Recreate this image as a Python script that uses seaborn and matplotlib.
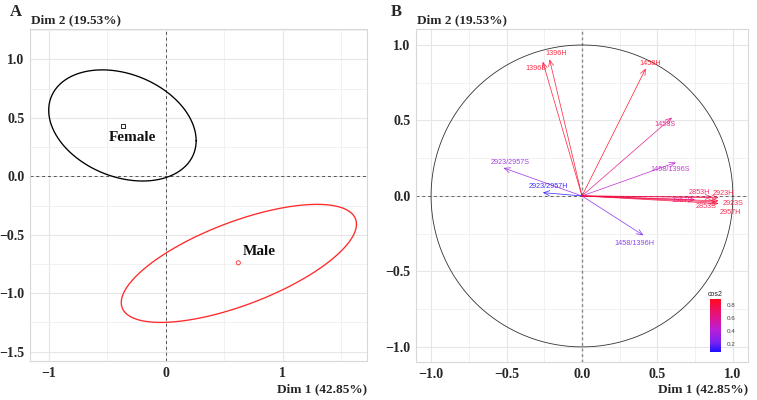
import numpy as np
import pandas as pd
import matplotlib
matplotlib.use("Agg")
import matplotlib.pyplot as plt
import seaborn as sns
from matplotlib.colors import LinearSegmentedColormap, Normalize
from matplotlib.ticker import MultipleLocator
from matplotlib.cm import ScalarMappable

# ---- panel A: group means and confidence ellipses ----
groups = ["Female", "Male"]
group_x = [-0.365, 0.62]
group_y = [0.43, -0.74]
ell_cx = [-0.37, 0.625]
ell_cy = [0.435, -0.745]
ell_sxx = [0.397, 1.01]
ell_syy = [0.226, 0.255]
ell_sxy = [-0.082, 0.337]

# ---- panel B: variable loadings ----
variables = ["1396H", "1396S", "1458H", "1458S", "1458/1396S", "2923/2957S",
             "2923/2957H", "1458/1396H", "1967S", "2853H", "2853S", "2923H",
             "2923S", "2957H"]
dim1 = [-0.215, -0.26, 0.423, 0.597, 0.623, -0.52, -0.26, 0.407,
        0.75, 0.862, 0.885, 0.906, 0.906, 0.906]
dim2 = [0.905, 0.89, 0.845, 0.52, 0.222, 0.186, 0.022, -0.261,
        -0.025, -0.007, -0.04, -0.011, -0.033, -0.05]

dim1_title = "Dim 1 (42.85%)"
dim2_title = "Dim 2 (19.53%)"

sns.set_theme(style="whitegrid")
plt.rcParams["font.family"] = ["Liberation Serif", "DejaVu Serif"]

fig = plt.figure(figsize=(7.57, 4.0), dpi=100)
axA = fig.add_axes([0.0396, 0.0975, 0.4452, 0.83])
axB = fig.add_axes([0.5495, 0.095, 0.4386, 0.8325])


def style_axes(ax):
    ax.grid(True, which="major", color="#E6E6E6", lw=0.8)
    ax.grid(True, which="minor", color="#EFEFEF", lw=0.6)
    ax.set_axisbelow(True)
    for s in ax.spines.values():
        s.set_color("#D8D8D8")
        s.set_linewidth(0.8)
    ax.tick_params(which="both", length=0, pad=4, labelsize=10)
    for lab in ax.get_xticklabels() + ax.get_yticklabels():
        lab.set_fontweight("bold")
    ax.set_xlabel("")
    ax.set_ylabel("")


# ---- panel A ----
colors_A = ["black", "#FF2A2A"]
t = np.linspace(0, 2 * np.pi, 300)
for i, g in enumerate(groups):
    S = np.array([[ell_sxx[i], ell_sxy[i]], [ell_sxy[i], ell_syy[i]]])
    L = np.linalg.cholesky(S)
    pts = L @ np.vstack([np.cos(t), np.sin(t)])
    sns.lineplot(x=pts[0] + ell_cx[i], y=pts[1] + ell_cy[i], sort=False,
                 estimator=None, color=colors_A[i], lw=0.95, ax=axA)

means = pd.DataFrame({"x": group_x, "y": group_y, "group": groups})
sns.scatterplot(data=means, x="x", y="y", hue="group", style="group",
                markers={"Female": "s", "Male": "o"},
                palette={"Female": "black", "Male": "#FF2A2A"},
                s=9, linewidth=0.6, legend=False, ax=axA)
for coll in axA.collections:
    coll.set_facecolor("none")
    coll.set_edgecolor(colors_A)

axA.axhline(0, color="#555555", ls=(0, (3, 3)), lw=0.7, zorder=1)
axA.axvline(0, color="#555555", ls=(0, (3, 3)), lw=0.7, zorder=1)
axA.text(-0.28, 0.33, "Female", ha="center", va="center", fontsize=11,
         fontweight="bold", color="#111111")
axA.text(0.80, -0.64, "Male", ha="center", va="center", fontsize=11,
         fontweight="bold", color="#111111")

axA.set_xlim(-1.16, 1.72)
axA.set_ylim(-1.58, 1.26)
axA.set_xticks([-1, 0, 1])
axA.set_yticks([-1.5, -1.0, -0.5, 0.0, 0.5, 1.0])
axA.set_yticklabels(["−1.5", "−1.0", "−0.5", "0.0", "0.5", "1.0"])
axA.set_xticklabels(["−1", "0", "1"])
axA.xaxis.set_minor_locator(MultipleLocator(0.5))
axA.yaxis.set_minor_locator(MultipleLocator(0.25))
style_axes(axA)

# ---- panel B ----
cos2 = np.array(dim1) ** 2 + np.array(dim2) ** 2
cmap = LinearSegmentedColormap.from_list(
    "cos2", [(0.0, "#1E10FF"), (0.18, "#7A22F2"), (0.42, "#B81ED8"),
             (0.66, "#E0148A"), (1.0, "#FF0A1E")])
norm = Normalize(vmin=cos2.min(), vmax=cos2.max())

sns.lineplot(x=np.cos(t), y=np.sin(t), sort=False, estimator=None,
             color="#333333", lw=0.6, ax=axB)
axB.axhline(0, color="#666666", ls=(0, (3, 3)), lw=0.7, zorder=1)
axB.axvline(0, color="#888888", ls=(0, (2, 2)), lw=1.0, zorder=1)

# label placements (data units)
label_pos = {
    "1396H": (-0.17, 0.945), "1396S": (-0.305, 0.845), "1458H": (0.455, 0.879),
    "1458S": (0.553, 0.474), "1458/1396S": (0.586, 0.177),
    "2923/2957S": (-0.476, 0.222), "2923/2957H": (-0.223, 0.06),
    "1458/1396H": (0.346, -0.312), "1967S": (0.66, -0.033),
    "2853H": (0.78, 0.022), "2853S": (0.82, -0.068), "2923H": (0.94, 0.016),
    "2923S": (1.0, -0.05), "2957H": (0.98, -0.11),
}
for name, x, y, c in zip(variables, dim1, dim2, cos2):
    col = cmap(norm(c))
    axB.annotate("", xy=(x, y), xytext=(0, 0),
                 arrowprops=dict(arrowstyle="->,head_length=0.35,head_width=0.15",
                                 color=col, alpha=0.85, lw=0.55,
                                 shrinkA=0, shrinkB=0))
    lx, ly = label_pos[name]
    axB.text(lx, ly, name, ha="center", va="center", fontsize=5.2, color=col,
             alpha=0.85, family=["Liberation Sans", "DejaVu Sans"])

axB.set_xlim(-1.10, 1.10)
axB.set_ylim(-1.10, 1.106)
axB.set_xticks([-1.0, -0.5, 0.0, 0.5, 1.0])
axB.set_yticks([-1.0, -0.5, 0.0, 0.5, 1.0])
axB.set_xticklabels(["−1.0", "−0.5", "0.0", "0.5", "1.0"])
axB.set_yticklabels(["−1.0", "−0.5", "0.0", "0.5", "1.0"])
axB.xaxis.set_minor_locator(MultipleLocator(0.25))
axB.yaxis.set_minor_locator(MultipleLocator(0.25))
style_axes(axB)

# colour bar
cax = fig.add_axes([0.938, 0.12, 0.0145, 0.1325])
cb = fig.colorbar(ScalarMappable(norm=norm, cmap=cmap), cax=cax)
cb.outline.set_visible(False)
cb.set_ticks([0.2, 0.4, 0.6, 0.8])
cb.ax.tick_params(length=2, width=0.5, color="white", labelsize=4.5,
                  labelcolor="#444444", pad=2)
for lab in cb.ax.get_yticklabels():
    lab.set_family(["Liberation Sans", "DejaVu Sans"])
cax.set_title("cos2", fontsize=5, color="#222222", pad=2,
              family=["Liberation Sans", "DejaVu Sans"])

# axis titles and panel letters
for ax in (axA, axB):
    pos = ax.get_position()
    fig.text(pos.x0 + 0.001, 0.95, dim2_title, ha="left", va="center",
             fontsize=9.5, fontweight="bold")
    fig.text(pos.x1, 0.028, dim1_title, ha="right", va="center",
             fontsize=9.5, fontweight="bold")
fig.text(0.013, 0.97, "A", ha="left", va="center", fontsize=12, fontweight="bold")
fig.text(0.516, 0.97, "B", ha="left", va="center", fontsize=12, fontweight="bold")

fig.savefig("out.png", dpi=100)
